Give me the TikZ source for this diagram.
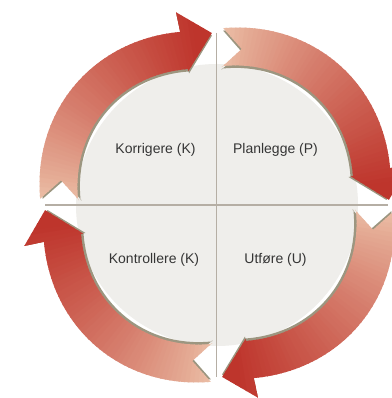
\documentclass[tikz,border=0pt]{standalone}
\usepackage{fontspec}
\newfontfamily\labfont{Liberation Sans}
\definecolor{diskc}{HTML}{EFEEEB}
\definecolor{linec}{HTML}{B5AEA4}
\definecolor{textc}{HTML}{353535}
\definecolor{tailc}{HTML}{EDC4AB}
\definecolor{headc}{HTML}{BE352C}
\definecolor{shadowc}{HTML}{9C9680}
\def\arrowpath#1#2{({#1-2}:{177-#2}) -- ({#1-9}:{158-#2}) -- ({#1-2}:{138-#2})
 -- plot[domain=2:78,samples=30,variable=\s] ({#1-\s}:{139-#2+8*sin(180*(\s-2)/76)})
 -- ({#1-78}:{137-#2}) -- ({#1-88.3}:{172-#2}) -- ({#1-78}:{197-#2})
 -- plot[domain=78:2,samples=30,variable=\s] ({#1-\s}:{177-#2+9*sin(180*(\s-2)/76)}) -- cycle}
\newcommand\gradarrow[1]{%
  \fill[shadowc] \arrowpath{#1}{2.5};
  \begin{scope}
    \clip \arrowpath{#1}{0};
    \foreach \i in {0,...,59}{%
      \pgfmathsetmacro\angA{#1-\i*1.5+0.1}
      \pgfmathsetmacro\angB{#1-\i*1.5-1.7}
      \pgfmathtruncatemacro\pp{min(100,100*((\i*1.5)/82)^0.8)}
      \fill[headc!\pp!tailc] (0,0) -- (\angA:230) -- (\angB:230) -- cycle;
    }
  \end{scope}}
\tikzset{lab/.style={font=\labfont\fontsize{14}{16}\selectfont, text=textc, inner sep=0pt},
  axis/.style={draw=linec, line width=1.8pt}}
\begin{document}
\begin{tikzpicture}[x=1pt,y=1pt]
\fill[white] (0,0) rectangle (391,398);
\useasboundingbox (0,0) rectangle (391,398);
\begin{scope}[shift={(217,193)}]
  \fill[diskc] (0,0) circle (141);
  \coordinate (vt) at (-0.5,172);
  \coordinate (vb) at (-0.5,-172);
  \coordinate (hl) at (-172,0);
  \coordinate (hr) at (171,0);
  \draw[axis] (vt) -- (vb);
  \draw[axis] (hl) -- (hr);
  \gradarrow{180}
  \gradarrow{90}
  \gradarrow{0}
  \gradarrow{270}
\end{scope}
\node[lab] (k1) at (155.5,248) {Korrigere (K)};
\node[lab] (p) at (275.5,248) {Planlegge (P)};
\node[lab] (k2) at (154,138) {Kontrollere (K)};
\node[lab] (u) at (275.5,138) {Utføre (U)};
\end{tikzpicture}
\end{document}
